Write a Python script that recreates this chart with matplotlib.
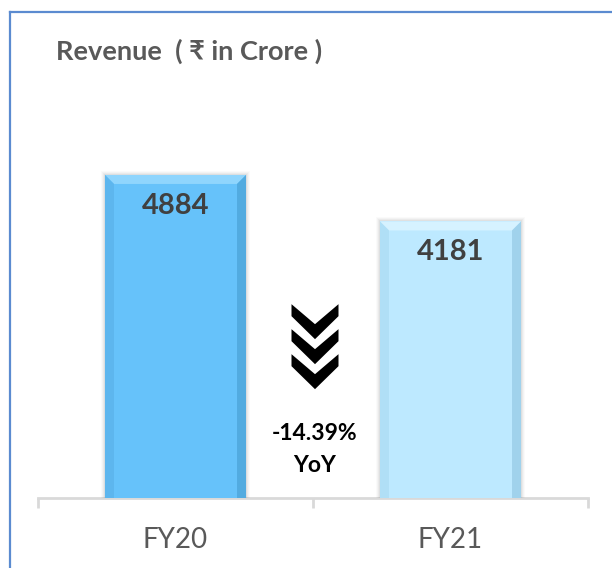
import matplotlib
matplotlib.use("Agg")
import matplotlib.pyplot as plt
import matplotlib.transforms as mtransforms
from matplotlib.patches import Polygon, Rectangle
from matplotlib.lines import Line2D

# ---- data ----
categories = ["FY20", "FY21"]
revenue = [4884, 4181]
title = "Revenue  ( \u20b9 in Crore )"

bar_colors = ["#66C2FA", "#BDE9FF"]
top_colors = ["#8FD5FD", "#D6F2FF"]
right_colors = ["#52ABE0", "#A0D2EC"]
left_colors = ["#5DB6EE", "#B0DFF6"]

W, H, DPI = 612, 568, 100
fig = plt.figure(figsize=(W / DPI, H / DPI), dpi=DPI)
fig.patch.set_facecolor("white")

ax = fig.add_axes([38 / W, 70 / H, 550 / W, 463 / H])
ax.set_xlim(-0.5, 1.5)
ax.set_ylim(0, 7000)
ax.set_facecolor("none")

x = list(range(len(categories)))
bw = 0.513
bars = ax.bar(x, revenue, width=bw, color=bar_colors, zorder=3, linewidth=0)

# pixel scales
fig.canvas.draw()
p0 = ax.transData.transform((0, 0))
p1 = ax.transData.transform((1, 1000))
px_x = (p1[0] - p0[0])  # px per x-unit
px_y = (p1[1] - p0[1]) / 1000.0  # px per y-unit

b = 9.0
bx, by = b / px_x, b / px_y
for i, bar in enumerate(bars):
    x0 = bar.get_x()
    x1 = x0 + bar.get_width()
    top = bar.get_height()
    # soft shadow
    for k, a in [(4, 0.04), (3, 0.05), (2, 0.07), (1, 0.09)]:
        ax.add_patch(Rectangle((x0 - k / px_x, 0), (x1 - x0) + 2 * k / px_x,
                               top + k / px_y, facecolor="#808080", alpha=a,
                               linewidth=0, zorder=2))
    ax.add_patch(Polygon([(x0, top), (x1, top), (x1 - bx, top - by), (x0 + bx, top - by)],
                         closed=True, facecolor=top_colors[i], linewidth=0, zorder=4))
    ax.add_patch(Polygon([(x1, 0), (x1, top), (x1 - bx, top - by), (x1 - bx, 0)],
                         closed=True, facecolor=right_colors[i], linewidth=0, zorder=4))
    ax.add_patch(Polygon([(x0, 0), (x0, top), (x0 + bx, top - by), (x0 + bx, 0)],
                         closed=True, facecolor=left_colors[i], linewidth=0, zorder=4))
    ax.annotate(f"{revenue[i]}", xy=(x[i], top), xytext=(0, -31 * 72 / DPI),
                textcoords="offset points", ha="center", va="center",
                fontsize=21, fontweight="bold", color="#404040",
                family=["Lato", "DejaVu Sans"], zorder=6)

# axes styling
for s in ["top", "right", "left"]:
    ax.spines[s].set_visible(False)
ax.spines["bottom"].set_color("#D9D9D9")
ax.spines["bottom"].set_linewidth(2)
ax.spines["bottom"].set_zorder(1)
ax.set_yticks([])
ax.set_xticks(x)
ax.set_xticklabels(categories)
ax.tick_params(axis="x", which="major", length=0, pad=30,
               labelsize=20, labelcolor="#595959")
for lab in ax.get_xticklabels():
    lab.set_family(["Lato", "DejaVu Sans"])
    lab.set_va("center")
ax.set_xticks([-0.5, 0.5, 1.5], minor=True)
ax.tick_params(axis="x", which="minor", length=10 * 72 / DPI, width=2,
               color="#D9D9D9", direction="out")

# chevrons (decoration between bars)
chev = [(-23.5, 0), (0, -20), (23.5, 0), (23.5, -12), (0, -35), (-23.5, -12)]
chev_top = 0.6 * max(revenue)
for k in range(3):
    trans = (mtransforms.Affine2D().translate(2, -25 * k)
             + mtransforms.ScaledTranslation(0.5, chev_top, ax.transData))
    ax.add_patch(Polygon(chev, closed=True, facecolor="black", edgecolor="none",
                         transform=trans, zorder=5, clip_on=False))

yoy = (revenue[1] - revenue[0]) / revenue[0] * 100
ax.text(0.5 + 2 / px_x, 968, f"{yoy:.2f}%", ha="center", va="center", fontsize=16.5,
        fontweight="bold", color="black", family=["Lato", "DejaVu Sans"])
ax.text(0.5 + 2 / px_x, 484, "YoY", ha="center", va="center", fontsize=16.5,
        fontweight="bold", color="black", family=["Lato", "DejaVu Sans"])

# title
fig.text(56 / W, 1 - 51 / H, title, ha="left", va="center", fontsize=19.5,
         fontweight="bold", color="#595959",
         family=["Lato", "Noto Sans", "DejaVu Sans"])

# frame lines (left and top)
fig.add_artist(Line2D([9.5 / W, 9.5 / W], [0, 1 - 11.5 / H], color="#5B8BD0",
                      linewidth=1.6, transform=fig.transFigure))
fig.add_artist(Line2D([9.5 / W, 1], [1 - 11.5 / H, 1 - 11.5 / H], color="#5B8BD0",
                      linewidth=1.6, transform=fig.transFigure))

fig.savefig("out.png", dpi=DPI)
